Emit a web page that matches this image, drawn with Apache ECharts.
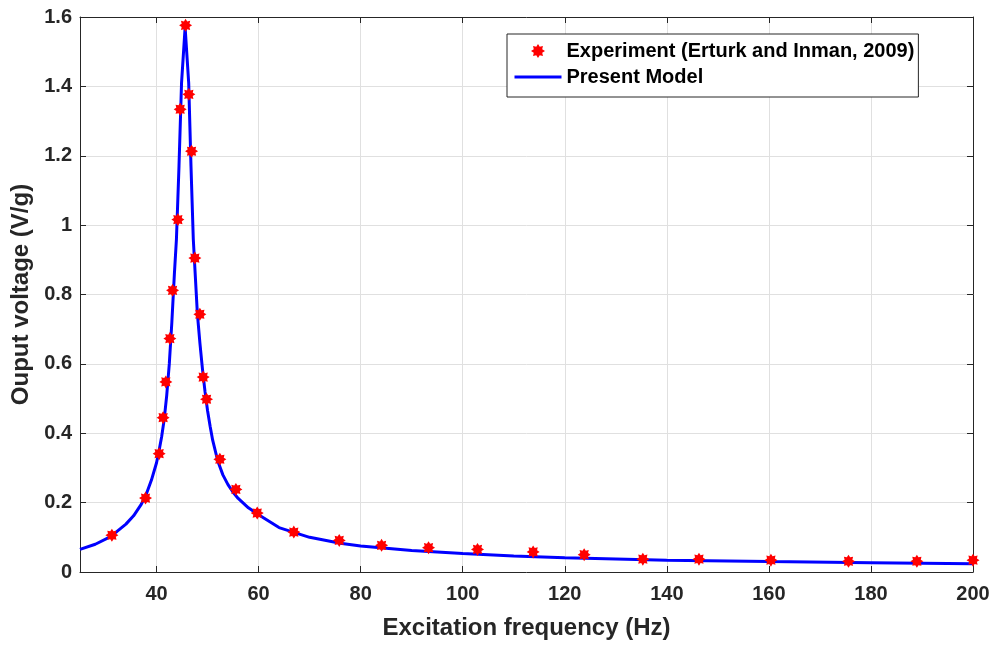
<!DOCTYPE html>
<html>
<head>
<meta charset="utf-8">
<script src="https://cdn.jsdelivr.net/npm/echarts@6/dist/echarts.min.js"></script>
<style>
html,body{margin:0;padding:0;background:#fff;}
#c{width:995px;height:645px;}
</style>
</head>
<body>
<div id="c"></div>
<script>
// Experimental data (Erturk and Inman, 2009)
var expX = [31.25, 37.84, 40.51, 41.29, 41.82, 42.61, 43.14, 44.18, 44.63, 45.69, 46.33, 46.86, 47.51, 48.49, 49.14, 49.8, 52.41, 55.55, 59.73, 66.9, 75.8, 84.1, 93.3, 102.9, 113.8, 123.8, 135.3, 146.3, 160.4, 175.6, 189.0, 200.0];
var expY = [0.106, 0.213, 0.341, 0.445, 0.548, 0.673, 0.812, 1.016, 1.334, 1.576, 1.377, 1.213, 0.905, 0.743, 0.562, 0.498, 0.325, 0.238, 0.170, 0.115, 0.091, 0.077, 0.070, 0.065, 0.058, 0.050, 0.037, 0.037, 0.034, 0.031, 0.031, 0.034];
// Present model curve
var modelX = [25, 28, 31, 34, 35.5, 37, 38, 39, 40, 40.5, 41, 41.5, 42, 42.5, 43, 43.5, 43.9, 44.4, 44.9, 45.6, 46.3, 46.75, 47.2, 48, 48.5, 49, 49.5, 50, 50.5, 51, 52, 53, 54, 55, 56, 58, 60, 64, 70, 76, 80, 90, 100, 110, 120, 140, 160, 180, 200];
var modelY = [0.065, 0.080, 0.102, 0.138, 0.162, 0.195, 0.225, 0.265, 0.315, 0.350, 0.39, 0.44, 0.51, 0.60, 0.72, 0.86, 0.96, 1.17, 1.41, 1.57, 1.41, 1.17, 0.96, 0.745, 0.66, 0.585, 0.52, 0.465, 0.42, 0.38, 0.32, 0.28, 0.252, 0.23, 0.212, 0.185, 0.165, 0.128, 0.100, 0.083, 0.075, 0.062, 0.053, 0.046, 0.041, 0.034, 0.030, 0.027, 0.024];
var xTicks = [40, 60, 80, 100, 120, 140, 160, 180, 200];
var seriesNames = ['Experiment (Erturk and Inman, 2009)', 'Present Model'];
var xTitle = 'Excitation frequency (Hz)';
var yTitle = 'Ouput voltage (V/g)';

// 8-point star symbol
var pts = [];
for (var k = 0; k < 16; k++) {
  var a = k * Math.PI / 8 - Math.PI / 2;
  var r = (k % 2 === 0) ? 10 : 6.5;
  pts.push((10 + r * Math.cos(a)).toFixed(2) + ' ' + (10 + r * Math.sin(a)).toFixed(2));
}
var starPath = 'path://M' + pts.join(' L') + ' Z';

var expData = expX.map(function (x, i) { return [x, expY[i]]; });
var modelData = modelX.map(function (x, i) { return [x, modelY[i]]; });

var axisColor = '#262626';
var font = 'Liberation Sans, Arial, Helvetica, sans-serif';

var chart = echarts.init(document.getElementById('c'), null, {renderer: 'canvas'});
chart.setOption({
  backgroundColor: '#ffffff',
  animation: false,
  grid: {left: 80, right: 22, top: 17, bottom: 73, containLabel: false},
  legend: {
    left: 507, top: 34,
    orient: 'vertical',
    backgroundColor: '#ffffff',
    borderColor: '#262626',
    borderWidth: 1,
    padding: [7, 4, 10, 6],
    itemGap: 6,
    itemWidth: 47,
    itemHeight: 14,
    textStyle: {fontFamily: font, fontWeight: 'bold', fontSize: 20, color: '#000'},
    data: [
      {name: seriesNames[0], icon: starPath, itemStyle: {color: '#ff0000'}},
      {name: seriesNames[1], itemStyle: {opacity: 0}, lineStyle: {color: '#0000ff', width: 3}}
    ]
  },
  xAxis: [{
    type: 'value', min: 25, max: 200, position: 'bottom',
    name: xTitle, nameLocation: 'middle', nameGap: 44,
    nameTextStyle: {fontFamily: font, fontWeight: 'bold', fontSize: 24, color: axisColor},
    axisLine: {show: true, onZero: false, lineStyle: {color: axisColor, width: 1}},
    axisTick: {show: true, inside: true, length: 6, customValues: xTicks, lineStyle: {color: axisColor}},
    axisLabel: {show: true, customValues: xTicks, margin: 12, fontFamily: font, fontWeight: 'bold', fontSize: 20, color: axisColor},
    splitLine: {show: true, lineStyle: {color: '#e0e0e0', width: 1}}
  }, {
    type: 'value', min: 25, max: 200, position: 'top',
    axisLine: {show: true, onZero: false, lineStyle: {color: axisColor, width: 1}},
    axisTick: {show: true, inside: true, length: 6, customValues: xTicks, lineStyle: {color: axisColor}},
    axisLabel: {show: false},
    splitLine: {show: false}
  }],
  yAxis: [{
    type: 'value', min: 0, max: 1.6, interval: 0.2, position: 'left',
    name: yTitle, nameLocation: 'middle', nameGap: 46, nameRotate: 90,
    nameTextStyle: {fontFamily: font, fontWeight: 'bold', fontSize: 24, color: axisColor},
    axisLine: {show: true, onZero: false, lineStyle: {color: axisColor, width: 1}},
    axisTick: {show: true, inside: true, length: 6, lineStyle: {color: axisColor}},
    axisLabel: {show: true, margin: 8, fontFamily: font, fontWeight: 'bold', fontSize: 20, color: axisColor},
    splitLine: {show: true, lineStyle: {color: '#e0e0e0', width: 1}}
  }, {
    type: 'value', min: 0, max: 1.6, interval: 0.2, position: 'right',
    axisLine: {show: true, onZero: false, lineStyle: {color: axisColor, width: 1}},
    axisTick: {show: true, inside: true, length: 6, lineStyle: {color: axisColor}},
    axisLabel: {show: false},
    splitLine: {show: false}
  }],
  series: [{
    name: seriesNames[1],
    type: 'line',
    data: modelData,
    showSymbol: false,
    symbol: 'none',
    smooth: false,
    lineStyle: {color: '#0000ff', width: 3},
    itemStyle: {color: '#0000ff'},
    z: 2
  }, {
    name: seriesNames[0],
    type: 'scatter',
    data: expData,
    symbol: starPath,
    symbolSize: 13,
    clip: false,
    itemStyle: {color: '#ff0000', opacity: 1},
    z: 3
  }]
});
</script>
</body>
</html>
